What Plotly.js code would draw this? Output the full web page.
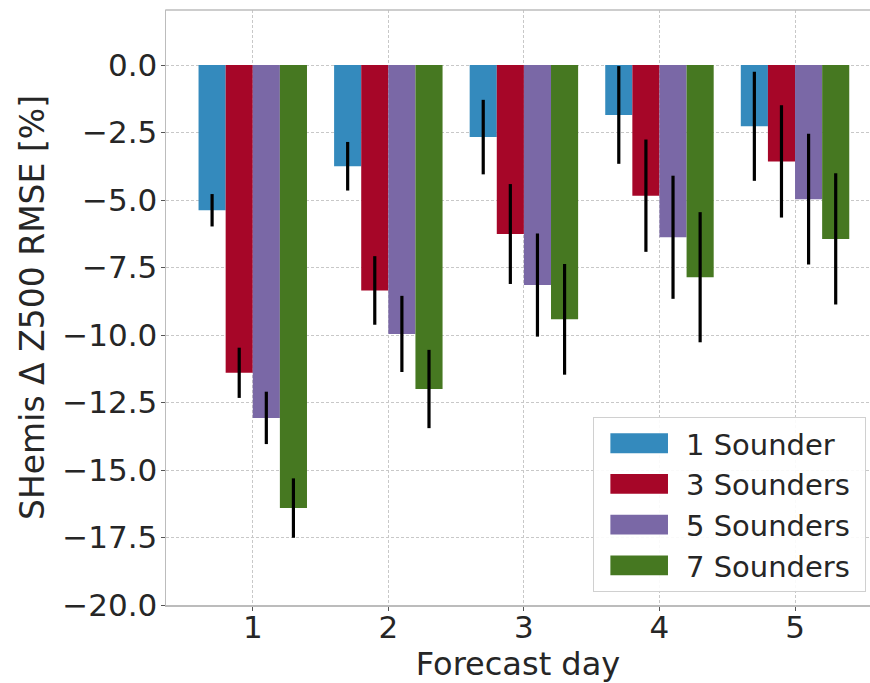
<!DOCTYPE html>
<html>
<head>
<meta charset="utf-8">
<script src="https://cdn.plot.ly/plotly-3.0.1.min.js"></script>
<style>html,body{margin:0;padding:0;background:#fff;overflow:hidden;}</style>
</head>
<body>
<div id="chart" style="width:870px;height:683px;"></div>
<script>
const days = [1, 2, 3, 4, 5];
const seriesNames = ["1 Sounder", "3 Sounders", "5 Sounders", "7 Sounders"];
const colors = ["#348ABD", "#A60628", "#7A68A6", "#467821"];
const sounder1 = [-5.38, -3.75, -2.67, -1.85, -2.27];
const sounder1Err = [0.60, 0.90, 1.38, 1.81, 2.02];
const sounder3 = [-11.40, -8.35, -6.26, -4.84, -3.57];
const sounder3Err = [0.93, 1.27, 1.85, 2.08, 2.08];
const sounder5 = [-13.07, -9.96, -8.15, -6.38, -4.97];
const sounder5Err = [0.97, 1.41, 1.91, 2.28, 2.42];
const sounder7 = [-16.41, -12.00, -9.42, -7.86, -6.44];
const sounder7Err = [1.10, 1.45, 2.05, 2.41, 2.43];
const yTickVals = [0, -2.5, -5, -7.5, -10, -12.5, -15, -17.5, -20];

const values = [sounder1, sounder3, sounder5, sounder7];
const errs = [sounder1Err, sounder3Err, sounder5Err, sounder7Err];

const FONT = "DejaVu Sans, Liberation Sans, sans-serif";

const traces = values.map((v, i) => ({
  type: "bar",
  name: seriesNames[i] + "\u00a0",
  x: days,
  y: v,
  marker: {color: colors[i], line: {width: 0}},
  error_y: {type: "data", array: errs[i], visible: true, color: "#000000", thickness: 3.2, width: 0}
}));

const layout = {
  width: 870,
  height: 683,
  autosize: false,
  margin: {l: 166, r: 0, t: 10, b: 78, pad: 0},
  paper_bgcolor: "#ffffff",
  plot_bgcolor: "#ffffff",
  barmode: "group",
  bargap: 0.2,
  bargroupgap: 0,
  font: {family: FONT, color: "#262626"},
  xaxis: {
    range: [0.36, 5.553],
    tickvals: days,
    ticktext: days.map(String),
    tickfont: {size: 31, family: FONT, color: "#262626"},
    ticks: "outside", ticklen: 4, tickwidth: 1, tickcolor: "#555555",
    ticklabelstandoff: -10,
    showline: true, linecolor: "#bcbcbc", linewidth: 1.5, mirror: false,
    showgrid: true, gridcolor: "#c8c8c8", gridwidth: 1, griddash: "3px,2px",
    zeroline: false,
    title: {text: "Forecast day", font: {size: 32, family: FONT, color: "#262626"}, standoff: 8},
    automargin: false
  },
  yaxis: {
    range: [-20, 2.037],
    tickvals: yTickVals,
    tickformat: ".1f",
    tickfont: {size: 31, family: FONT, color: "#262626"},
    ticks: "outside", ticklen: 4, tickwidth: 1, tickcolor: "#555555",
    ticklabelstandoff: -3,
    showline: true, linecolor: "#bcbcbc", linewidth: 1.5, mirror: false,
    showgrid: true, gridcolor: "#c8c8c8", gridwidth: 1, griddash: "3px,2px",
    zeroline: false,
    title: {text: "SHemis \u0394 Z500 RMSE [%]", font: {size: 33, family: FONT, color: "#262626"}, standoff: 7},
    automargin: false
  },
  shapes: [{
    type: "line", xref: "paper", yref: "paper", x0: -0.001, x1: 1.01, y0: 1, y1: 1,
    line: {color: "#bcbcbc", width: 1.5}, layer: "above"
  }],
  showlegend: true,
  legend: {
    x: 0.9943, xanchor: "right",
    y: 0.022, yanchor: "bottom",
    bgcolor: "rgba(255,255,255,0.9)",
    bordercolor: "#d0d0d0", borderwidth: 1,
    font: {size: 29, family: FONT, color: "#262626"},
    itemwidth: 82,
    traceorder: "normal"
  }
};

Plotly.newPlot("chart", traces, layout, {displayModeBar: false, staticPlot: true}).then(gd => {
  gd.querySelectorAll(".legend .legendpoints path").forEach(p => {
    const t = p.getAttribute("transform") || "";
    p.setAttribute("transform", t + " translate(-0.8,0) scale(4.8,1.65)");
  });
});
</script>
</body>
</html>
